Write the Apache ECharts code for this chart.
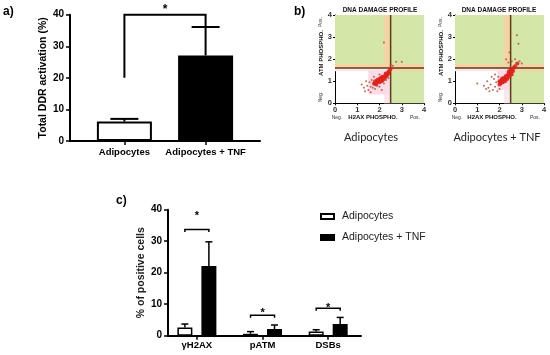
<!DOCTYPE html>
<html><head><meta charset="utf-8">
<script src="https://cdn.jsdelivr.net/npm/echarts@6/dist/echarts.min.js"></script>
<style>html,body{margin:0;padding:0;background:#fff}#c{width:550px;height:355px}</style>
</head><body><div id="c"></div><script>
// ---------- Panel a data ----------
const aCategories = ['Adipocytes', 'Adipocytes + TNF'];
const aValues = [6.2, 27.1];
const aErrors = [0.8, 9.0];
const aBracketY = [20, 40, 36];       // left leg start, top, right leg end
const aStarY = 41.5;

// ---------- Panel b data (flow cytometry dot plots) ----------
const bTitle = 'DNA DAMAGE PROFILE';
const bGateX = 2.5;
const bGateY = 1.6;
const b1Dense = [[1.75,0.88],[1.8,0.92],[1.85,0.95],[1.9,0.98],[1.95,1.0],[2.0,1.02],[2.05,1.05],[2.1,1.1],[2.15,1.15],[2.2,1.2],[2.25,1.25],[2.3,1.3],[2.35,1.35],[2.4,1.42],[2.45,1.5],[2.5,1.57],[1.9,1.05],[2.0,0.95],[2.1,1.0],[2.05,1.15],[2.2,1.1],[1.8,1.0],[2.15,1.05],[2.25,1.18],[2.3,1.22],[2.35,1.28],[2.4,1.35],[1.95,1.08],[2.12,1.2],[2.0,1.1],[1.85,0.85],[2.28,1.35]];
const b1Sparse = [[1.3,0.7],[1.45,0.8],[1.5,0.6],[1.6,0.75],[1.55,0.95],[1.7,0.7],[1.65,1.05],[1.4,1.0],[1.8,0.65],[1.9,0.8],[2.0,0.75],[2.2,0.9],[2.3,1.05],[1.2,0.85],[1.75,1.2],[2.1,0.6],[1.35,0.55],[2.4,1.15],[1.6,0.5],[2.0,1.3],[2.2,2.75],[2.75,1.88],[3.0,1.88],[2.6,1.7],[2.5,1.75]];
const b2Dense = [[2.0,0.85],[2.05,0.9],[2.1,0.95],[2.15,1.0],[2.2,1.05],[2.25,1.1],[2.3,1.15],[2.35,1.2],[2.4,1.27],[2.45,1.33],[2.5,1.4],[2.55,1.47],[2.6,1.55],[2.65,1.62],[2.7,1.68],[2.8,1.8],[2.1,1.05],[2.2,1.15],[2.3,1.25],[2.4,1.35],[2.05,1.0],[2.15,0.95],[2.25,1.0],[2.35,1.1],[2.45,1.2],[2.55,1.3],[2.5,1.55],[2.6,1.45],[2.0,1.0],[2.12,1.12],[2.28,1.2],[2.42,1.45]];
const b2Sparse = [[1.0,0.9],[1.3,0.8],[1.45,1.0],[1.5,0.7],[1.6,0.85],[1.7,0.6],[1.75,1.1],[1.8,0.75],[1.85,0.95],[1.9,0.55],[1.65,1.2],[1.55,0.55],[1.95,1.2],[1.4,0.65],[2.0,0.65],[1.8,1.3],[2.9,1.9],[2.78,3.08],[2.85,2.7],[2.3,2.0],[2.45,2.3],[2.4,1.85],[2.55,1.9],[3.0,1.8],[2.7,2.0]];
const bCaptions = ['Adipocytes', 'Adipocytes + TNF'];

// ---------- Panel c data ----------
const cCategories = ['γH2AX', 'pATM', 'DSBs'];
const cSeriesNames = ['Adipocytes', 'Adipocytes + TNF'];
const cAdipocytes = [2.6, 0.6, 1.35];
const cAdipocytesErr = [1.1, 0.7, 0.55];
const cTNF = [22.1, 2.1, 3.7];
const cTNFErr = [7.7, 1.3, 2.1];
const cSigY = [33.7, 6.5, 8.7];
const cStarY = [38.9, 7.9, 9.6];

// ---------- rendering ----------
const FONT = '"Liberation Sans", Arial, sans-serif';
const chart = echarts.init(document.getElementById('c'), null, {renderer: 'canvas'});

function errRender(offsetPx, capHalf, lw) {
  return function (params, api) {
    const x = api.value(0), y = api.value(1), e = api.value(2);
    const p0 = api.coord([x, y]), p1 = api.coord([x, y + e]);
    const cx = p0[0] + offsetPx;
    return {type: 'group', children: [
      {type: 'line', shape: {x1: cx, y1: p0[1], x2: cx, y2: p1[1]}, style: {stroke: '#000', lineWidth: lw}},
      {type: 'line', shape: {x1: cx - capHalf, y1: p1[1], x2: cx + capHalf, y2: p1[1]}, style: {stroke: '#000', lineWidth: lw}}
    ]};
  };
}

const bColors = {green: '#d5e6a9', peach: '#f4d3a4', lpink: '#fbe6ec', pink: '#fbdbe5'};
function bRegions(cluster) {
  return [
    [0, bGateY, 4, 4, 'green'],
    [bGateX, 0, 4, bGateY, 'green'],
    [2.2, bGateY, bGateX, 4, 'peach'],
    [0, bGateY, 4, 1.78, 'peach'],
    [bGateX, 1.45, 4, bGateY, 'peach'],
    [2.2, 0, bGateX, bGateY, 'lpink'],
    [0, 1.45, 2.2, bGateY, 'lpink'],
    cluster
  ];
}
function makeBg(idx, regions) {
  return {
    type: 'custom', xAxisIndex: idx, yAxisIndex: idx, z: 1, silent: true,
    data: regions.map(r => [r[0], r[1], r[2], r[3]]),
    renderItem: function (params, api) {
      const d = regions[params.dataIndex];
      const a = api.coord([api.value(0), api.value(3)]), b = api.coord([api.value(2), api.value(1)]);
      return {type: 'rect', shape: {x: a[0], y: a[1], width: b[0] - a[0], height: b[1] - a[1]}, style: {fill: bColors[d[4]]}, silent: true};
    }
  };
}
function makeGate(idx) {
  return {
    type: 'custom', xAxisIndex: idx, yAxisIndex: idx, z: 2, silent: true,
    data: [[bGateX, bGateY]],
    renderItem: function (params, api) {
      const gx = api.value(0), gy = api.value(1);
      const v0 = api.coord([gx, 0]), v1 = api.coord([gx, 4]);
      const h0 = api.coord([0, gy]), h1 = api.coord([4, gy]);
      return {type: 'group', children: [
        {type: 'line', shape: {x1: v0[0], y1: v0[1], x2: v1[0], y2: v1[1]}, style: {stroke: '#5e3d17', lineWidth: 1.5}},
        {type: 'line', shape: {x1: h0[0], y1: h0[1], x2: h1[0], y2: h1[1]}, style: {stroke: '#5e3d17', lineWidth: 1.5}}
      ]};
    }
  };
}

function bAxes(idx) {
  return {
    x: {gridIndex: idx, type: 'value', min: 0, max: 4, interval: 1,
        axisLine: {onZero: false, lineStyle: {color: '#000', width: 1}},
        axisTick: {length: 2, lineStyle: {color: '#000'}},
        axisLabel: {fontSize: 7.5, fontWeight: 'bold', color: '#333', margin: 3, fontFamily: FONT},
        splitLine: {show: false}},
    y: {gridIndex: idx, type: 'value', min: 0, max: 4, interval: 1,
        axisLine: {show: true, onZero: false, lineStyle: {color: '#000', width: 1}},
        axisTick: {show: true, length: 2, lineStyle: {color: '#000'}},
        axisLabel: {fontSize: 7.5, fontWeight: 'bold', color: '#333', margin: 3, fontFamily: FONT},
        splitLine: {show: false}}
  };
}
const b1 = bAxes(1), b2 = bAxes(2);

const option = {
  backgroundColor: '#fff',
  animation: false,
  textStyle: {fontFamily: FONT},
  grid: [
    {left: 70, top: 14.7, width: 190, height: 126.3},
    {left: 335, top: 15, width: 89, height: 88.3},
    {left: 455, top: 15, width: 89, height: 88.3},
    {left: 168, top: 209.7, width: 193, height: 126}
  ],
  xAxis: [
    {gridIndex: 0, type: 'value', min: -0.67, max: 1.67,
     axisLine: {onZero: false, lineStyle: {color: '#000', width: 2}},
     axisTick: {customValues: [0, 1], length: 4, lineStyle: {color: '#000', width: 1.5}},
     axisLabel: {customValues: [0, 1], formatter: v => aCategories[Math.round(v)], fontSize: 9.5, fontWeight: 'bold', color: '#000', margin: 6, fontFamily: FONT},
     splitLine: {show: false}},
    b1.x, b2.x,
    {gridIndex: 3, type: 'value', min: -0.44, max: 2.5,
     axisLine: {onZero: false, lineStyle: {color: '#000', width: 2}},
     axisTick: {customValues: [0, 1, 2], length: 4, lineStyle: {color: '#000', width: 1.5}},
     axisLabel: {customValues: [0, 1, 2], formatter: v => cCategories[Math.round(v)], fontSize: 9.5, fontWeight: 'bold', color: '#000', margin: 5, fontFamily: FONT},
     splitLine: {show: false}}
  ],
  yAxis: [
    {gridIndex: 0, type: 'value', min: 0, max: 40, interval: 10,
     name: 'Total DDR activation (%)', nameLocation: 'middle', nameGap: 17, nameRotate: 90,
     nameTextStyle: {fontSize: 10.5, fontWeight: 'bold', color: '#000', fontFamily: FONT},
     axisLine: {show: true, onZero: false, lineStyle: {color: '#000', width: 2}},
     axisTick: {show: true, length: 4, lineStyle: {color: '#000', width: 1.5}},
     axisLabel: {fontSize: 10, fontWeight: 'bold', color: '#000', margin: 6, fontFamily: FONT},
     splitLine: {show: false}},
    b1.y, b2.y,
    {gridIndex: 3, type: 'value', min: 0, max: 40, interval: 10,
     name: '% of positive cells', nameLocation: 'middle', nameGap: 17, nameRotate: 90,
     nameTextStyle: {fontSize: 10.5, fontWeight: 'bold', color: '#222', fontFamily: FONT},
     axisLine: {show: true, onZero: false, lineStyle: {color: '#000', width: 2}},
     axisTick: {show: true, length: 4, lineStyle: {color: '#000', width: 1.5}},
     axisLabel: {fontSize: 10, fontWeight: 'bold', color: '#000', margin: 6, fontFamily: FONT},
     splitLine: {show: false}}
  ],
  legend: {
    data: cSeriesNames, orient: 'vertical', left: 315, top: 206, itemWidth: 13, itemHeight: 5, itemGap: 10,
    icon: 'rect', textStyle: {fontSize: 10.5, color: '#222', fontFamily: FONT, padding: [0, 0, 0, 3]}
  },
  series: [
    // panel a bars
    {type: 'bar', name: 'Total DDR', xAxisIndex: 0, yAxisIndex: 0, barWidth: 55,
     data: aValues.map((v, i) => ({value: [i, v], itemStyle: i === 0 ? {color: '#fff', borderColor: '#000', borderWidth: 2} : {color: '#000', borderColor: '#000', borderWidth: 2}}))},
    {type: 'custom', xAxisIndex: 0, yAxisIndex: 0, z: 3, silent: true,
     data: aValues.map((v, i) => [i, v, aErrors[i]]), renderItem: errRender(0, 14, 2)},
    {type: 'custom', xAxisIndex: 0, yAxisIndex: 0, z: 3, silent: true,
     data: [[0, 1, aBracketY[0], aBracketY[1], aBracketY[2]]],
     renderItem: function (params, api) {
       const x1 = api.value(0), x2 = api.value(1);
       const pL = api.coord([x1, api.value(2)]), pT1 = api.coord([x1, api.value(3)]);
       const pT2 = api.coord([x2, api.value(3)]), pR = api.coord([x2, api.value(4)]);
       const st = api.coord([(x1 + x2) / 2, aStarY]);
       return {type: 'group', children: [
         {type: 'polyline', shape: {points: [pL, pT1, pT2, pR]}, style: {stroke: '#000', lineWidth: 2, fill: null}},
         {type: 'text', x: st[0], y: st[1], style: {text: '*', font: 'bold 12px ' + FONT, fill: '#000', align: 'center', verticalAlign: 'middle'}}
       ]};
     }},
    // panel b
    makeBg(1, bRegions([1.5, 0.4, 2.5, 1.5, 'pink'])),
    makeBg(2, bRegions([1.9, 0.6, 2.5, 1.5, 'pink'])),
    makeGate(1), makeGate(2),
    {type: 'scatter', xAxisIndex: 1, yAxisIndex: 1, z: 3, symbolSize: 4, itemStyle: {color: '#e0221c', opacity: 0.9}, data: b1Dense, silent: true},
    {type: 'scatter', xAxisIndex: 1, yAxisIndex: 1, z: 3, symbolSize: 2, itemStyle: {color: '#b8402c', opacity: 0.8}, data: b1Sparse, silent: true},
    {type: 'scatter', xAxisIndex: 2, yAxisIndex: 2, z: 3, symbolSize: 4, itemStyle: {color: '#e0221c', opacity: 0.9}, data: b2Dense, silent: true},
    {type: 'scatter', xAxisIndex: 2, yAxisIndex: 2, z: 3, symbolSize: 2, itemStyle: {color: '#b8402c', opacity: 0.8}, data: b2Sparse, silent: true},
    // panel c
    {type: 'bar', name: cSeriesNames[0], xAxisIndex: 3, yAxisIndex: 3, barWidth: 15, barGap: '60%',
     itemStyle: {color: '#fff', borderColor: '#000', borderWidth: 1.5},
     data: cAdipocytes.map((v, i) => [i, v])},
    {type: 'bar', name: cSeriesNames[1], xAxisIndex: 3, yAxisIndex: 3, barWidth: 15, barGap: '60%',
     itemStyle: {color: '#000', borderColor: '#000', borderWidth: 1.5},
     data: cTNF.map((v, i) => [i, v])},
    {type: 'custom', xAxisIndex: 3, yAxisIndex: 3, z: 3, silent: true,
     data: cAdipocytes.map((v, i) => [i, v, cAdipocytesErr[i]]), renderItem: errRender(-12, 3.5, 1.5)},
    {type: 'custom', xAxisIndex: 3, yAxisIndex: 3, z: 3, silent: true,
     data: cTNF.map((v, i) => [i, v, cTNFErr[i]]), renderItem: errRender(12, 3.5, 1.5)},
    {type: 'custom', xAxisIndex: 3, yAxisIndex: 3, z: 3, silent: true,
     data: cSigY.map((v, i) => [i, v, cStarY[i]]),
     renderItem: function (params, api) {
       const p = api.coord([api.value(0), api.value(1)]);
       const s = api.coord([api.value(0), api.value(2)]);
       const l = p[0] - 12, r = p[0] + 12;
       return {type: 'group', children: [
         {type: 'polyline', shape: {points: [[l, p[1] + 2.5], [l, p[1]], [r, p[1]], [r, p[1] + 2.5]]}, style: {stroke: '#000', lineWidth: 1.5, fill: null}},
         {type: 'text', x: s[0], y: s[1] + 2.5, style: {text: '*', font: 'bold 11px ' + FONT, fill: '#000', align: 'center', verticalAlign: 'middle'}}
       ]};
     }}
  ],
  graphic: [
    {type: 'text', left: 3, top: 6, style: {text: 'a)', font: 'bold 12px ' + FONT, fill: '#000'}},
    {type: 'text', left: 294, top: 6, style: {text: 'b)', font: 'bold 12px ' + FONT, fill: '#000'}},
    {type: 'text', left: 116, top: 195, style: {text: 'c)', font: 'bold 12px ' + FONT, fill: '#000'}},
    {type: 'text', x: 380, y: 10, style: {text: bTitle, font: 'bold 6.5px ' + FONT, fill: '#111', align: 'center', verticalAlign: 'middle'}},
    {type: 'text', x: 499, y: 10, style: {text: bTitle, font: 'bold 6.5px ' + FONT, fill: '#111', align: 'center', verticalAlign: 'middle'}},
    {type: 'text', x: 321, y: 53, rotation: Math.PI / 2, style: {text: 'ATM PHOSPHO.', font: 'bold 6px ' + FONT, fill: '#111', align: 'center', verticalAlign: 'middle'}},
    {type: 'text', x: 441, y: 53, rotation: Math.PI / 2, style: {text: 'ATM PHOSPHO.', font: 'bold 6px ' + FONT, fill: '#111', align: 'center', verticalAlign: 'middle'}},
    {type: 'text', x: 321, y: 22, rotation: Math.PI / 2, style: {text: 'Pos.', font: '5px ' + FONT, fill: '#333', align: 'center', verticalAlign: 'middle'}},
    {type: 'text', x: 441, y: 22, rotation: Math.PI / 2, style: {text: 'Pos.', font: '5px ' + FONT, fill: '#333', align: 'center', verticalAlign: 'middle'}},
    {type: 'text', x: 321, y: 97, rotation: Math.PI / 2, style: {text: 'Neg.', font: '5px ' + FONT, fill: '#333', align: 'center', verticalAlign: 'middle'}},
    {type: 'text', x: 441, y: 97, rotation: Math.PI / 2, style: {text: 'Neg.', font: '5px ' + FONT, fill: '#333', align: 'center', verticalAlign: 'middle'}},
    {type: 'text', x: 337, y: 118, style: {text: 'Neg.', font: '5px ' + FONT, fill: '#333', align: 'center', verticalAlign: 'middle'}},
    {type: 'text', x: 457, y: 118, style: {text: 'Neg.', font: '5px ' + FONT, fill: '#333', align: 'center', verticalAlign: 'middle'}},
    {type: 'text', x: 373, y: 117.5, style: {text: 'H2AX PHOSPHO.', font: 'bold 6px ' + FONT, fill: '#111', align: 'center', verticalAlign: 'middle'}},
    {type: 'text', x: 492, y: 117.5, style: {text: 'H2AX PHOSPHO.', font: 'bold 6px ' + FONT, fill: '#111', align: 'center', verticalAlign: 'middle'}},
    {type: 'text', x: 415, y: 118, style: {text: 'Pos.', font: '5px ' + FONT, fill: '#333', align: 'center', verticalAlign: 'middle'}},
    {type: 'text', x: 535, y: 118, style: {text: 'Pos.', font: '5px ' + FONT, fill: '#333', align: 'center', verticalAlign: 'middle'}},
    {type: 'text', x: 371, y: 137, style: {text: bCaptions[0], font: '11px Lato, "Open Sans", sans-serif', fill: '#222', align: 'center', verticalAlign: 'middle'}},
    {type: 'text', x: 497, y: 137, style: {text: bCaptions[1], font: '11px Lato, "Open Sans", sans-serif', fill: '#222', align: 'center', verticalAlign: 'middle'}}
  ]
};
chart.setOption(option);
</script></body></html>
